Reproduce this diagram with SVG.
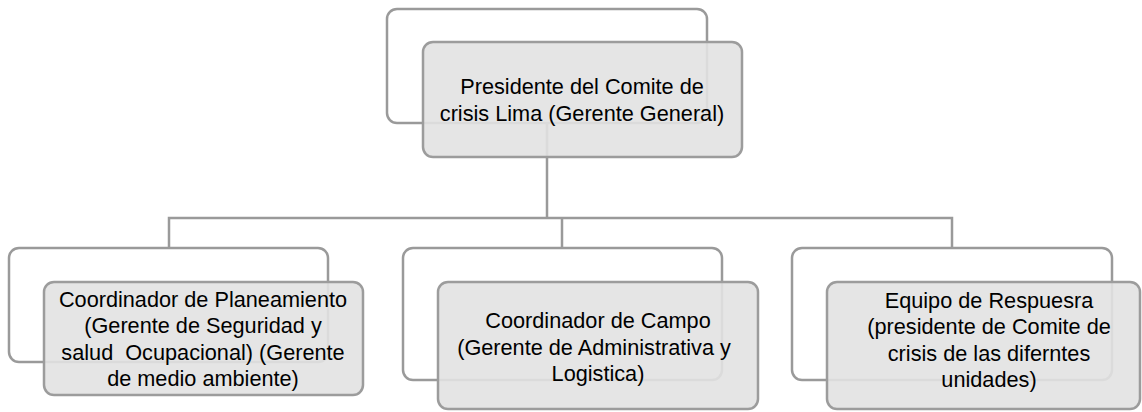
<svg xmlns="http://www.w3.org/2000/svg" width="1142" height="412" viewBox="0 0 1142 412">
<style>
.back{fill:#ffffff;stroke:#9a9a9a;stroke-width:2.5}
.front{fill:#e2e2e2;fill-opacity:0.9;stroke:#9c9c9c;stroke-width:2.5}
.conn{fill:none;stroke:#9a9a9a;stroke-width:2.5}
text{font-family:"Liberation Sans",Arial,sans-serif;font-size:21.7px;fill:#000;text-anchor:middle}
</style>
<rect width="1142" height="412" fill="#ffffff"/>
<g id="connectors">
<path class="conn" d="M547,123 V218"/>
<path class="conn" d="M169,248 V218 H952 V248"/>
<path class="conn" d="M562,218 V248"/>
</g>
<g id="node-presidente">
<rect class="back" x="387" y="9" width="320" height="114" rx="10"/>
<path class="conn" d="M547,123 V157" stroke-opacity="0.5"/>
<rect class="front" x="423" y="42" width="319" height="115" rx="10"/>
<text x="582" y="94">Presidente del Comite de</text>
<text x="582" y="120.5">crisis Lima (Gerente General)</text>
</g>
<g id="node-planeamiento">
<rect class="back" x="9" y="248" width="319" height="114" rx="10"/>
<rect class="front" x="44" y="282" width="319" height="113" rx="10"/>
<text x="203" y="307">Coordinador de Planeamiento</text>
<text x="203" y="333.3">(Gerente de Seguridad y</text>
<text x="203" y="359.6" xml:space="preserve">salud  Ocupacional) (Gerente</text>
<text x="203" y="386">de medio ambiente)</text>
</g>
<g id="node-campo">
<rect class="back" x="403" y="248" width="319" height="132" rx="10"/>
<rect class="front" x="438" y="282" width="320" height="127" rx="10"/>
<text x="598" y="328">Coordinador de Campo</text>
<text x="594" y="354.5">(Gerente de Administrativa y</text>
<text x="598" y="381">Logistica)</text>
</g>
<g id="node-respuesta">
<rect class="back" x="792" y="248" width="320" height="132" rx="10"/>
<rect class="front" x="827" y="282" width="313" height="127" rx="10"/>
<text x="989" y="307.5">Equipo de Respuesra</text>
<text x="989" y="334">(presidente de Comite de</text>
<text x="989" y="360.5">crisis de las diferntes</text>
<text x="989" y="387">unidades)</text>
</g>
</svg>
